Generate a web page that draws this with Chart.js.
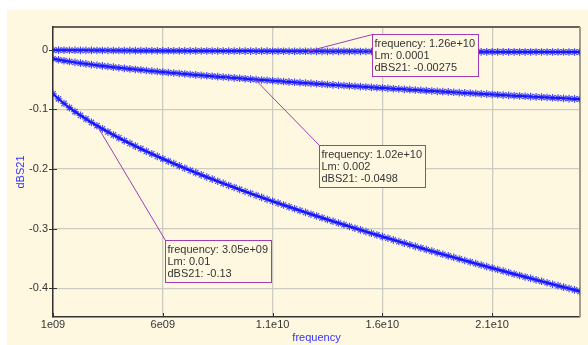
<!DOCTYPE html>
<html>
<head>
<meta charset="utf-8">
<title>dBS21 vs frequency</title>
<script src="https://cdn.jsdelivr.net/npm/chart.js@4.4.1/dist/chart.umd.min.js"></script>
<style>
  html, body { margin: 0; padding: 0; background: #fff; }
  #chart { display: block; }
</style>
</head>
<body>
<canvas id="chart" width="588" height="345"></canvas>
<script>
// Sweep points (GHz)
const freqGHz = [
  1, 1.25, 1.5, 1.75, 2, 2.25, 2.5, 2.75, 3, 3.25, 3.5, 3.75,
  4, 4.25, 4.5, 4.75, 5, 5.25, 5.5, 5.75, 6, 6.25, 6.5, 6.75,
  7, 7.25, 7.5, 7.75, 8, 8.25, 8.5, 8.75, 9, 9.25, 9.5, 9.75,
  10, 10.25, 10.5, 10.75, 11, 11.25, 11.5, 11.75, 12, 12.25, 12.5, 12.75,
  13, 13.25, 13.5, 13.75, 14, 14.25, 14.5, 14.75, 15, 15.25, 15.5, 15.75,
  16, 16.25, 16.5, 16.75, 17, 17.25, 17.5, 17.75, 18, 18.25, 18.5, 18.75,
  19, 19.25, 19.5, 19.75, 20, 20.25, 20.5, 20.75, 21, 21.25, 21.5, 21.75,
  22, 22.25, 22.5, 22.75, 23, 23.25, 23.5, 23.75, 24, 24.25, 24.5, 24.75,
  25
];

// dBS21 for Lm = 0.0001
const dbsLm0001 = [
  -0.00074, -0.00082, -0.00090, -0.00097, -0.00104, -0.00110, -0.00116, -0.00122, -0.00127, -0.00133, -0.00138, -0.00143,
  -0.00148, -0.00153, -0.00157, -0.00162, -0.00166, -0.00170, -0.00175, -0.00179, -0.00183, -0.00187, -0.00191, -0.00195,
  -0.00199, -0.00202, -0.00206, -0.00210, -0.00213, -0.00217, -0.00221, -0.00224, -0.00228, -0.00231, -0.00234, -0.00238,
  -0.00241, -0.00244, -0.00248, -0.00251, -0.00254, -0.00257, -0.00260, -0.00264, -0.00267, -0.00270, -0.00273, -0.00276,
  -0.00279, -0.00282, -0.00285, -0.00288, -0.00291, -0.00293, -0.00296, -0.00299, -0.00302, -0.00305, -0.00308, -0.00311,
  -0.00313, -0.00316, -0.00319, -0.00322, -0.00324, -0.00327, -0.00330, -0.00332, -0.00335, -0.00338, -0.00340, -0.00343,
  -0.00346, -0.00348, -0.00351, -0.00353, -0.00356, -0.00358, -0.00361, -0.00364, -0.00366, -0.00369, -0.00371, -0.00374,
  -0.00376, -0.00378, -0.00381, -0.00383, -0.00386, -0.00388, -0.00391, -0.00393, -0.00396, -0.00398, -0.00400, -0.00403,
  -0.00405
];

// dBS21 for Lm = 0.002
const dbsLm002 = [
  -0.0152, -0.0169, -0.0185, -0.0199, -0.0213, -0.0226, -0.0238, -0.0250, -0.0261, -0.0272, -0.0283, -0.0293,
  -0.0303, -0.0313, -0.0322, -0.0331, -0.0340, -0.0349, -0.0358, -0.0367, -0.0375, -0.0383, -0.0391, -0.0399,
  -0.0407, -0.0415, -0.0423, -0.0430, -0.0437, -0.0445, -0.0452, -0.0459, -0.0466, -0.0473, -0.0480, -0.0487,
  -0.0494, -0.0501, -0.0508, -0.0514, -0.0521, -0.0527, -0.0534, -0.0540, -0.0547, -0.0553, -0.0559, -0.0565,
  -0.0571, -0.0577, -0.0584, -0.0590, -0.0596, -0.0601, -0.0607, -0.0613, -0.0619, -0.0625, -0.0631, -0.0637,
  -0.0642, -0.0648, -0.0654, -0.0659, -0.0665, -0.0670, -0.0676, -0.0681, -0.0687, -0.0692, -0.0698, -0.0703,
  -0.0708, -0.0714, -0.0719, -0.0724, -0.0729, -0.0735, -0.0740, -0.0745, -0.0750, -0.0755, -0.0761, -0.0766,
  -0.0771, -0.0776, -0.0781, -0.0786, -0.0791, -0.0796, -0.0801, -0.0806, -0.0811, -0.0816, -0.0820, -0.0825,
  -0.0830
];

// dBS21 for Lm = 0.01
const dbsLm01 = [
  -0.0740, -0.0824, -0.0901, -0.0972, -0.1038, -0.1101, -0.1161, -0.1219, -0.1274, -0.1327, -0.1379, -0.1429,
  -0.1478, -0.1525, -0.1571, -0.1616, -0.1660, -0.1704, -0.1746, -0.1788, -0.1829, -0.1869, -0.1908, -0.1947,
  -0.1986, -0.2024, -0.2061, -0.2098, -0.2134, -0.2170, -0.2205, -0.2240, -0.2275, -0.2309, -0.2343, -0.2377,
  -0.2410, -0.2443, -0.2476, -0.2508, -0.2540, -0.2572, -0.2603, -0.2635, -0.2666, -0.2696, -0.2727, -0.2757,
  -0.2787, -0.2817, -0.2847, -0.2876, -0.2905, -0.2934, -0.2963, -0.2992, -0.3020, -0.3049, -0.3077, -0.3105,
  -0.3133, -0.3160, -0.3188, -0.3215, -0.3242, -0.3269, -0.3296, -0.3323, -0.3350, -0.3376, -0.3403, -0.3429,
  -0.3455, -0.3481, -0.3507, -0.3533, -0.3558, -0.3584, -0.3609, -0.3635, -0.3660, -0.3685, -0.3710, -0.3735,
  -0.3760, -0.3784, -0.3809, -0.3833, -0.3858, -0.3882, -0.3906, -0.3931, -0.3955, -0.3979, -0.4002, -0.4026,
  -0.4050
];

const xTicks = [1e9, 6e9, 1.1e10, 1.6e10, 2.1e10];
const xTickLabels = ['1e09', '6e09', '1.1e10', '1.6e10', '2.1e10'];
const yTicks = [0, -0.1, -0.2, -0.3, -0.4];
const yTickLabels = ['0', '-0.1', '-0.2', '-0.3', '-0.4'];

// Marker readouts
const markerFreq = [1.26e10, 1.02e10, 3.05e9];
const markerLm = [0.0001, 0.002, 0.01];
const markerDb = [-0.00275, -0.0498, -0.13];
// where each readout box sits relative to its marker (px)
const markerBoxOffset = [[64.5, -17], [63.5, 65.5], [67, 112.5]];

const CREAM = '#fff8e1';
const FONT = '"Liberation Sans", Arial, sans-serif';
const PURPLE = '#a23cb4';
const BLUE = '#0000ff';

function fmtFreq(v) {
  const parts = v.toExponential(2).split('e');
  const sign = parts[1][0];
  const exp = parts[1].slice(1).padStart(2, '0');
  return parts[0] + 'e' + sign + exp;
}

function toPoints(values) {
  return freqGHz.map((f, i) => ({ x: f * 1e9, y: values[i] }));
}

function seriesStyle(values) {
  return {
    data: toPoints(values),
    borderColor: BLUE,
    borderWidth: 2,
    pointStyle: 'star',
    pointRadius: 3.8,
    pointBorderWidth: 1.2,
    pointBorderColor: 'rgba(30, 30, 255, 0.8)',
    pointBackgroundColor: 'rgba(30, 30, 255, 0.8)',
    tension: 0
  };
}

// background, frame and small tick marks
const backdrop = {
  id: 'backdrop',
  beforeDraw(chart) {
    const ctx = chart.ctx;
    ctx.save();
    ctx.fillStyle = '#ffffff';
    ctx.fillRect(0, 0, chart.width, chart.height);
    ctx.fillStyle = CREAM;
    ctx.fillRect(7, 10, chart.width - 7, chart.height - 10);
    ctx.restore();
  },
  beforeDatasetsDraw(chart) {
    const ctx = chart.ctx;
    const area = chart.chartArea;
    const xs = chart.scales.x;
    const ys = chart.scales.y;
    ctx.save();
    ctx.strokeStyle = '#333333';
    ctx.lineWidth = 1.5;
    ctx.beginPath();
    ctx.moveTo(area.left, area.top);
    ctx.lineTo(area.right, area.top);
    ctx.stroke();
    ctx.strokeStyle = '#a29e92';
    ctx.lineWidth = 2;
    ctx.beginPath();
    ctx.moveTo(area.right, area.top);
    ctx.lineTo(area.right, area.bottom);
    ctx.stroke();

    ctx.strokeStyle = '#333333';
    ctx.lineWidth = 1;
    xTicks.forEach(v => {
      const px = Math.round(xs.getPixelForValue(v)) + 0.5;
      ctx.beginPath();
      ctx.moveTo(px, area.bottom - 4);
      ctx.lineTo(px, area.bottom);
      ctx.stroke();
    });
    yTicks.forEach(v => {
      const py = Math.round(ys.getPixelForValue(v)) + 0.5;
      ctx.beginPath();
      ctx.moveTo(area.left - 4, py);
      ctx.lineTo(area.left + 4, py);
      ctx.stroke();
    });
    ctx.restore();
  }
};

// readout boxes with leader lines
const readouts = {
  id: 'readouts',
  afterDatasetsDraw(chart) {
    const ctx = chart.ctx;
    const xs = chart.scales.x;
    const ys = chart.scales.y;
    ctx.save();
    ctx.font = '11px ' + FONT;
    markerFreq.forEach((f, i) => {
      const px = xs.getPixelForValue(f);
      const py = ys.getPixelForValue(markerDb[i]);
      const bx = Math.round(px + markerBoxOffset[i][0]) + 0.5;
      const by = Math.round(py + markerBoxOffset[i][1]) + 0.5;
      const lines = [
        'frequency: ' + fmtFreq(f),
        'Lm: ' + String(markerLm[i]),
        'dBS21: ' + String(markerDb[i])
      ];
      const w = Math.ceil(Math.max(...lines.map(t => ctx.measureText(t).width))) + 5;
      const h = 42;

      ctx.strokeStyle = PURPLE;
      ctx.lineWidth = 1;
      ctx.beginPath();
      ctx.moveTo(px, py);
      ctx.lineTo(bx, by);
      ctx.stroke();

      ctx.fillStyle = CREAM;
      ctx.fillRect(bx, by, w, h);
      ctx.strokeStyle = PURPLE;
      ctx.strokeRect(bx, by, w, h);

      ctx.fillStyle = '#333333';
      ctx.textBaseline = 'middle';
      ctx.textAlign = 'left';
      lines.forEach((t, k) => {
        ctx.fillText(t, bx + 2, by + 9 + k * 12.2);
      });
    });
    ctx.restore();
  }
};

new Chart(document.getElementById('chart'), {
  type: 'line',
  data: {
    datasets: [
      seriesStyle(dbsLm0001),
      seriesStyle(dbsLm002),
      seriesStyle(dbsLm01)
    ]
  },
  options: {
    responsive: false,
    animation: false,
    devicePixelRatio: 1,
    layout: { padding: { top: 27, right: 8, left: 0, bottom: 0 } },
    plugins: {
      legend: { display: false },
      tooltip: { enabled: false }
    },
    scales: {
      x: {
        type: 'linear',
        min: 1e9,
        max: 2.5e10,
        afterFit(scale) { scale.height = 28; },
        afterBuildTicks(scale) { scale.ticks = xTicks.map(v => ({ value: v })); },
        ticks: {
          color: '#333333',
          font: { family: FONT, size: 11 },
          padding: 1,
          maxRotation: 0,
          autoSkip: false,
          callback: (v) => xTickLabels[xTicks.indexOf(v)]
        },
        grid: { color: 'rgba(200, 198, 190, 0.9)', lineWidth: 1.3, drawTicks: false },
        border: { color: '#333333', width: 1.5 },
        title: {
          display: true,
          text: 'frequency',
          color: '#3333ff',
          font: { family: FONT, size: 11 },
          padding: { top: 0, bottom: 0 }
        }
      },
      y: {
        type: 'linear',
        min: -0.448,
        max: 0.038,
        afterFit(scale) { scale.width = 53; },
        afterBuildTicks(scale) { scale.ticks = yTicks.map(v => ({ value: v })); },
        ticks: {
          color: '#333333',
          font: { family: FONT, size: 11 },
          padding: 5,
          callback: (v) => yTickLabels[yTicks.indexOf(v)]
        },
        grid: { color: 'rgba(200, 198, 190, 0.9)', lineWidth: 1.3, drawTicks: false },
        border: { color: '#333333', width: 1.5 },
        title: {
          display: true,
          text: 'dBS21',
          color: '#3333ff',
          font: { family: FONT, size: 11 },
          padding: { top: 14, bottom: 0 }
        }
      }
    }
  },
  plugins: [backdrop, readouts]
});
</script>
</body>
</html>
